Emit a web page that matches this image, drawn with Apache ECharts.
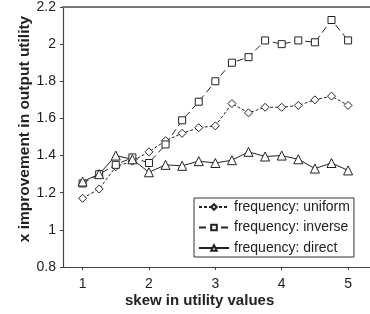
<!DOCTYPE html>
<html>
<head>
<meta charset="utf-8">
<script src="https://cdn.jsdelivr.net/npm/echarts@6/dist/echarts.min.js"></script>
<style>
  html, body { margin: 0; padding: 0; background: #fff; }
  #chart { width: 370px; height: 314px; }
</style>
</head>
<body>
<div id="chart"></div>
<script>
// skew values on the x axis
var skew = [1, 1.25, 1.5, 1.75, 2, 2.25, 2.5, 2.75, 3, 3.25, 3.5, 3.75, 4, 4.25, 4.5, 4.75, 5];
// improvement values
var uniform = [1.17, 1.22, 1.34, 1.37, 1.42, 1.48, 1.52, 1.55, 1.56, 1.68, 1.63, 1.66, 1.66, 1.67, 1.70, 1.72, 1.67];
var inverse = [1.25, 1.30, 1.35, 1.39, 1.36, 1.46, 1.59, 1.69, 1.80, 1.90, 1.93, 2.02, 2.00, 2.02, 2.01, 2.13, 2.02];
var direct = [1.26, 1.30, 1.40, 1.38, 1.31, 1.35, 1.345, 1.37, 1.36, 1.375, 1.42, 1.395, 1.40, 1.38, 1.33, 1.36, 1.32];
var xTicks = [1, 2, 3, 4, 5];

var FONT = "'Liberation Sans', Arial, sans-serif";

function pairs(vals) {
  return skew.map(function (x, i) { return [x, vals[i]]; });
}

var chart = echarts.init(document.getElementById("chart"));

var mark = {
  color: "#fff",
  borderColor: "#222",
  borderWidth: 1
};

chart.setOption({
  animation: false,
  grid: { left: 63, top: 4, right: 0, bottom: 47 },
  xAxis: [
    {
      type: "value",
      min: 0.705,
      max: 5.33,
      splitLine: { show: false },
      axisLine: { lineStyle: { color: "#444", width: 1.2 } },
      axisTick: { customValues: xTicks, length: 3, lineStyle: { color: "#444" } },
      axisLabel: { customValues: xTicks, color: "#222", fontSize: 14, fontFamily: FONT, margin: 10 }
    },
    {
      // top border
      type: "value",
      position: "top",
      min: 0.705,
      max: 5.33,
      splitLine: { show: false },
      axisLine: { lineStyle: { color: "#777", width: 2 } },
      axisTick: { show: false },
      axisLabel: { show: false }
    }
  ],
  yAxis: {
    type: "value",
    min: 0.8,
    max: 2.2,
    interval: 0.2,
    splitLine: { show: false },
    axisLine: { show: true, lineStyle: { color: "#444", width: 1.2 } },
    axisTick: { show: true, length: 3, lineStyle: { color: "#444" } },
    axisLabel: { color: "#222", fontSize: 14, fontFamily: FONT, margin: 7 }
  },
  legend: {
    orient: "vertical",
    left: 194,
    top: 198,
    padding: [2, 4, 2, 4],
    itemWidth: 30,
    itemHeight: 7,
    itemGap: 6.5,
    borderColor: "#333",
    borderWidth: 1,
    backgroundColor: "#fff",
    textStyle: { color: "#222", fontSize: 14, lineHeight: 14, fontFamily: FONT },
    data: ["frequency: uniform", "frequency: inverse", "frequency: direct"]
  },
  graphic: [
    {
      type: "text",
      left: 125,
      top: 293,
      style: { text: "skew in utility values", font: "bold 15px " + FONT, fill: "#222" }
    },
    {
      type: "text",
      x: 25,
      y: 129,
      rotation: Math.PI / 2,
      style: {
        text: "x improvement in output utility",
        font: "bold 15.5px " + FONT,
        fill: "#222",
        align: "center",
        verticalAlign: "middle"
      }
    }
  ],
  series: [
    {
      name: "frequency: uniform",
      type: "line",
      data: pairs(uniform),
      symbol: "diamond",
      symbolSize: 8,
      lineStyle: { color: "#222", width: 1, type: [3, 2] },
      itemStyle: mark
    },
    {
      name: "frequency: inverse",
      type: "line",
      data: pairs(inverse),
      symbol: "rect",
      symbolSize: 7,
      lineStyle: { color: "#222", width: 1, type: [7, 4] },
      itemStyle: mark
    },
    {
      name: "frequency: direct",
      type: "line",
      data: pairs(direct),
      symbol: "triangle",
      symbolSize: 9,
      lineStyle: { color: "#222", width: 1 },
      itemStyle: mark
    }
  ]
});
</script>
</body>
</html>
